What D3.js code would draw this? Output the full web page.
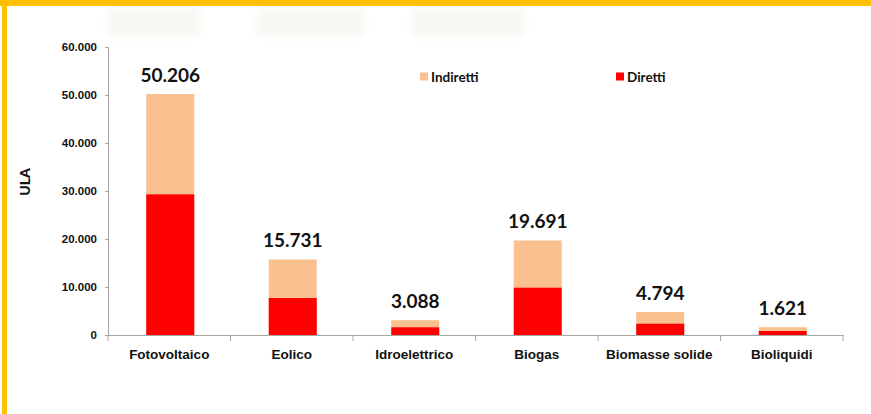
<!DOCTYPE html>
<html>
<head>
<meta charset="utf-8">
<script src="https://cdn.jsdelivr.net/npm/d3@7"></script>
<style>
  body { margin: 0; background: #fff; }
  svg { display: block; font-family: Lato, "Open Sans", sans-serif; }
</style>
</head>
<body>
<div id="chart"></div>
<script>
// data
const categories = ["Fotovoltaico", "Eolico", "Idroelettrico", "Biogas", "Biomasse solide", "Bioliquidi"]
const totals = [50206, 15731, 3088, 19691, 4794, 1621]
const diretti = [29300, 7700, 1600, 9850, 2350, 830]
const yTicks = [0, 10000, 20000, 30000, 40000, 50000, 60000]
const seriesNames = ["Indiretti", "Diretti"]
const seriesColors = ["#FAC090", "#FF0000"]

const width = 871
const height = 414

const svg = d3.select("#chart").append("svg")
  .attr("width", width)
  .attr("height", height)

// faint blurred shapes at the top of the slide
const defs = svg.append("defs")
defs.append("filter").attr("id", "blur")
  .attr("x", "-20%").attr("y", "-50%").attr("width", "140%").attr("height", "200%")
  .append("feGaussianBlur").attr("stdDeviation", 5)
const ghost = svg.append("g").attr("filter", "url(#blur)")
;[[108, 92], [258, 106], [412, 112]].forEach(d => {
  ghost.append("rect")
    .attr("x", d[0]).attr("y", 8)
    .attr("width", d[1]).attr("height", 28)
    .attr("fill", "#f5f8f2")
})

// yellow frame
svg.append("rect").attr("x", 0).attr("y", 0).attr("width", width).attr("height", 6).attr("fill", "#FFC000")
svg.append("rect").attr("x", 2).attr("y", 0).attr("width", 5).attr("height", height).attr("fill", "#FFC000")

const x = d3.scaleBand()
  .domain(categories)
  .range([108, 843])
  .padding(0)

const y = d3.scaleLinear()
  .domain([0, 60000])
  .range([335, 47])

const fmt = v => d3.format(",")(v).replace(/,/g, ".")

// y axis
const yAxis = svg.append("g")
  .attr("transform", "translate(108,0)")
  .call(d3.axisLeft(y).tickValues(yTicks).tickSize(3).tickPadding(8).tickFormat(fmt))
yAxis.select(".domain").attr("stroke", "#a6a6a6")
yAxis.selectAll(".tick line").attr("stroke", "#a6a6a6")
yAxis.selectAll(".tick text")
  .attr("fill", "#111")
  .style("font-size", "11.5px")
  .style("font-weight", "900")

// x axis
const xAxis = svg.append("g")
  .attr("transform", "translate(0,335)")
  .call(d3.axisBottom(x).tickSize(0).tickPadding(14))
xAxis.select(".domain").attr("stroke", "#a6a6a6")
xAxis.selectAll(".tick text")
  .attr("fill", "#111")
  .style("font-size", "13.5px")
  .style("font-weight", "bold")
// separators between categories
xAxis.selectAll("line.sep")
  .data(categories.concat([null]))
  .enter().append("line")
  .attr("class", "sep")
  .attr("x1", (d, i) => 108 + i * x.bandwidth())
  .attr("x2", (d, i) => 108 + i * x.bandwidth())
  .attr("y1", 0).attr("y2", 6)
  .attr("stroke", "#a6a6a6")

// y title
svg.append("text")
  .attr("transform", "translate(30,182) rotate(-90)")
  .attr("text-anchor", "middle")
  .style("font-size", "14px")
  .style("font-weight", "900")
  .attr("fill", "#111")
  .text("ULA")

// stacked bars
const barW = 48
const rows = categories.map((c, i) => ({ cat: c, dir: diretti[i], tot: totals[i] }))
const bars = svg.append("g").classed("bars", true)
  .selectAll("g")
  .data(rows)
  .enter().append("g")
  .attr("transform", d => `translate(${x(d.cat) + x.bandwidth() / 2 - barW / 2 + 1},0)`)

bars.append("rect")
  .attr("y", d => y(d.tot))
  .attr("height", d => y(0) - y(d.tot))
  .attr("width", barW)
  .attr("fill", seriesColors[0])

bars.append("rect")
  .attr("y", d => y(d.dir))
  .attr("height", d => y(0) - y(d.dir))
  .attr("width", barW)
  .attr("fill", seriesColors[1])

bars.append("text")
  .attr("x", barW / 2)
  .attr("y", d => y(d.tot) - 12)
  .attr("text-anchor", "middle")
  .style("font-size", "19px")
  .style("font-weight", "bold")
  .attr("fill", "#111")
  .text(d => fmt(d.tot))

// legend
const legendX = [420, 616]
const legend = svg.append("g").selectAll("g")
  .data(seriesNames)
  .enter().append("g")
  .attr("transform", (d, i) => `translate(${legendX[i]},77)`)
legend.append("rect")
  .attr("x", 0).attr("y", -4.5)
  .attr("width", 8).attr("height", 8)
  .attr("fill", (d, i) => seriesColors[i])
legend.append("text")
  .attr("x", 11).attr("y", 5)
  .style("font-size", "13.5px")
  .style("font-weight", "bold")
  .attr("fill", "#111")
  .text(d => d)
</script>
</body>
</html>
